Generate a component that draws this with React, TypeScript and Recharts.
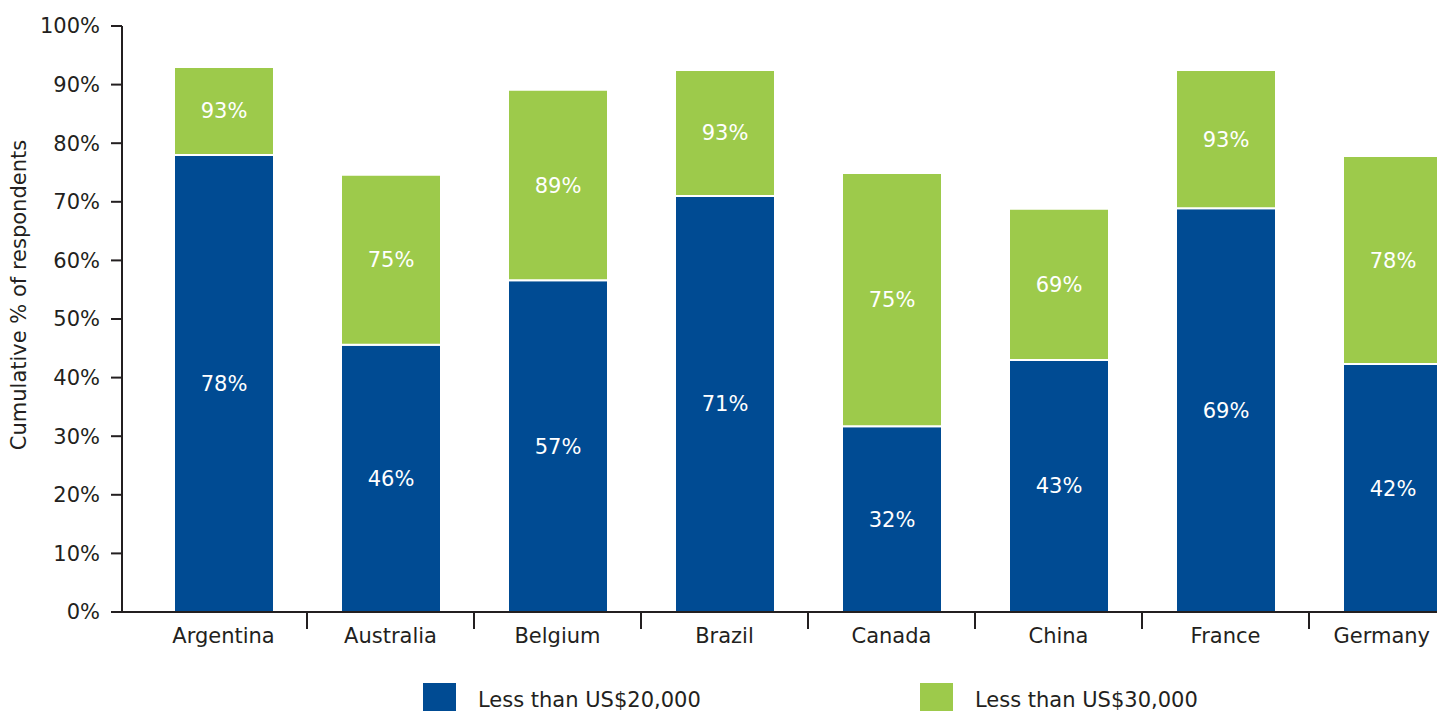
import React from "react";
import { Bar, BarChart, LabelList, Legend, XAxis, YAxis } from "recharts";

const countries = ["Argentina", "Australia", "Belgium", "Brazil", "Canada", "China", "France", "Germany"];
// share of respondents, cumulative
const under20k = [78.0, 45.6, 56.6, 71.0, 31.7, 43.0, 68.9, 42.3];
const under30k = [93.0, 74.6, 89.1, 92.5, 74.9, 68.8, 92.5, 77.8];
const yTicks = [0, 10, 20, 30, 40, 50, 60, 70, 80, 90, 100];

const BLUE = "#004b93";
const GREEN = "#9dca4b";
const TEXT = "#231f20";
const FONT = "'DejaVu Sans', sans-serif";

const CHART_W = 1468;
const CHART_H = 708;
const VISIBLE_W = 1429; // figure is cropped on the right
const Y_AXIS_W = 114;
const PAD_LEFT = 18;
const BAND = (CHART_W - Y_AXIS_W - PAD_LEFT) / countries.length;

const data = countries.map((name, i) => ({
  name,
  low: under20k[i],
  // green segment is the gap between the two cumulative shares
  mid: under30k[i] - under20k[i],
  total: under30k[i],
}));

const pct = (v: any) => `${Math.round(Number(v))}%`;

const CountryTick = (props: any) => {
  const { x, y, payload, index } = props;
  const last = index === countries.length - 1;
  return (
    <g>
      <text
        x={last ? VISIBLE_W - 7 : x}
        y={y + 31}
        textAnchor={last ? "end" : "middle"}
        fill={TEXT}
        fontSize={21}
        fontFamily={FONT}
      >
        {payload.value}
      </text>
      <line x1={x + BAND / 2} x2={x + BAND / 2} y1={y} y2={y + 17} stroke={TEXT} strokeWidth={2} />
    </g>
  );
};

const YLabel = (props: any) => {
  const { viewBox } = props;
  const cx = 11;
  const cy = viewBox.y + viewBox.height / 2 - 24;
  return (
    <text
      x={cx}
      y={cy}
      transform={`rotate(-90, ${cx}, ${cy})`}
      textAnchor="middle"
      dominantBaseline="central"
      fill={TEXT}
      fontSize={21}
      fontFamily={FONT}
    >
      Cumulative % of respondents
    </text>
  );
};

const LegendBox = () => {
  const items = [
    { label: "Less than US$20,000", color: BLUE },
    { label: "Less than US$30,000", color: GREEN },
  ];
  return (
    <div style={{ display: "flex", paddingLeft: 415, paddingTop: 11, fontFamily: FONT, fontSize: 21, color: TEXT }}>
      {items.map((it) => (
        <div key={it.label} style={{ display: "flex", alignItems: "center", width: 497, flexShrink: 0 }}>
          <div style={{ width: 33, height: 33, background: it.color, marginRight: 22 }} />
          <span style={{ whiteSpace: "nowrap" }}>{it.label}</span>
        </div>
      ))}
    </div>
  );
};

export default function App() {
  // the original figure is cropped at the right and bottom edges
  return (
    <div style={{ position: "fixed", left: 0, top: 0, width: 1437, height: 711, overflow: "hidden", background: "#fff" }}>
      <div style={{ position: "absolute", left: 8, top: 8 }}>
        <BarChart width={CHART_W} height={CHART_H} data={data} margin={{ top: 18, right: 0, bottom: 0, left: 0 }}>
          <XAxis
            dataKey="name"
            tick={<CountryTick />}
            tickLine={false}
            tickSize={0}
            tickMargin={0}
            height={60}
            padding={{ left: PAD_LEFT, right: 0 }}
            axisLine={{ stroke: TEXT, strokeWidth: 2 }}
            interval={0}
          />
          <YAxis
            width={Y_AXIS_W}
            domain={[0, 100]}
            ticks={yTicks}
            tickFormatter={(v) => `${v}%`}
            tick={{ fill: TEXT, fontSize: 21, fontFamily: FONT }}
            tickSize={11}
            tickMargin={11}
            tickLine={{ stroke: TEXT, strokeWidth: 2 }}
            axisLine={{ stroke: TEXT, strokeWidth: 2 }}
            interval={0}
            label={<YLabel />}
          />
          <Legend verticalAlign="bottom" content={<LegendBox />} />
          <Bar dataKey="low" stackId="a" fill={BLUE} stroke="#fff" strokeWidth={2} barSize={100} isAnimationActive={false}>
            <LabelList dataKey="low" position="center" formatter={pct} fill="#fff" fontSize={21} fontFamily={FONT} />
          </Bar>
          <Bar dataKey="mid" stackId="a" fill={GREEN} stroke="#fff" strokeWidth={2} barSize={100} isAnimationActive={false}>
            <LabelList dataKey="total" position="center" formatter={pct} fill="#fff" fontSize={21} fontFamily={FONT} />
          </Bar>
        </BarChart>
      </div>
    </div>
  );
}
